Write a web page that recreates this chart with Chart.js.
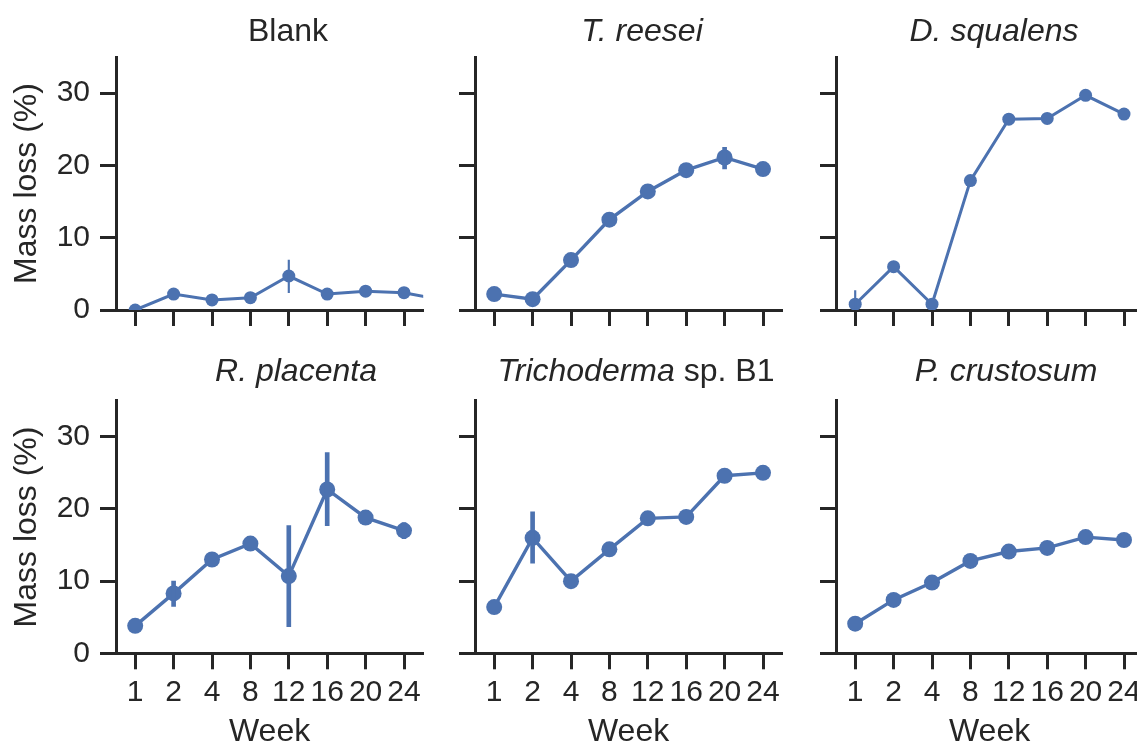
<!DOCTYPE html>
<html>
<head>
<meta charset="utf-8">
<title>Mass loss</title>
<script src="https://cdn.jsdelivr.net/npm/chart.js@4.4.0/dist/chart.umd.min.js"></script>
<style>
  html, body { margin: 0; padding: 0; background: #fff; overflow: hidden; }
  body { width: 1137px; height: 745px; position: relative; }
  canvas { position: absolute; }
</style>
</head>
<body>
<canvas id="blank"></canvas>
<canvas id="treesei"></canvas>
<canvas id="dsqualens"></canvas>
<canvas id="rplacenta"></canvas>
<canvas id="tricho"></canvas>
<canvas id="pcrust"></canvas>
<script>
// weeks on the x axis
const weeks = ['1', '2', '4', '8', '12', '16', '20', '24'];
const yTicks = [0, 10, 20, 30];

// mass loss (%) per week
const blank = [0, 2.2, 1.4, 1.7, 4.7, 2.2, 2.6, 2.4, 1.4]; // last value lies past week 24, cut off by the axis
const tReesei = [2.2, 1.5, 6.9, 12.5, 16.4, 19.35, 21.1, 19.5];
const dSqualens = [0.8, 6.0, 0.8, 17.9, 26.4, 26.5, 29.7, 27.1];
const rPlacenta = [3.8, 8.3, 13.0, 15.2, 10.7, 22.7, 18.8, 17.0];
const trichoderma = [6.4, 16.0, 10.0, 14.4, 18.7, 18.9, 24.6, 25.0];
const pCrustosum = [4.1, 7.4, 9.8, 12.8, 14.1, 14.6, 16.1, 15.7];

// error bars: [week index, low, high]
const blankErr = [[4, 2.4, 6.9]];
const tReeseiErr = [[6, 19.5, 22.5]];
const dSqualensErr = [[0, -1.1, 2.7]];
const rPlacentaErr = [[1, 6.5, 10.0], [4, 3.7, 17.7], [5, 17.7, 27.8], [7, 15.9, 18.1]];
const trichodermaErr = [[1, 12.5, 19.6]];
const pCrustosumErr = [];

const blue = '#4c72b0';
const ink = '#262626';
const family = "'Liberation Sans', Arial, sans-serif";
Chart.defaults.font.family = family;
Chart.defaults.color = ink;

// canvas placement
const cols = [
  { left: 0, width: 430, axisW: 116, padRight: 6.8 },
  { left: 440, width: 350, axisW: 35, padRight: 7.8 },
  { left: 800, width: 350, axisW: 36, padRight: 6.8 }
];
const rows = [
  { top: 0, height: 330, padTop: 57, axisH: 20, titleGap: 16 },
  { top: 340, height: 415, padTop: 60.7, axisH: 101.7, titleGap: 20 }
];

// title drawn above the plot, parts can be italic or not
const panelTitle = {
  id: 'panelTitle',
  afterDraw(chart, args, opts) {
    const ctx = chart.ctx;
    const area = chart.chartArea;
    ctx.save();
    ctx.fillStyle = ink;
    ctx.textBaseline = 'alphabetic';
    ctx.textAlign = 'left';
    const fonts = opts.parts.map(p => (p[1] ? 'italic ' : '') + '32px ' + family);
    let total = 0;
    const widths = opts.parts.map((p, i) => {
      ctx.font = fonts[i];
      const w = ctx.measureText(p[0]).width;
      total += w;
      return w;
    });
    let x = area.left + opts.center - total / 2;
    opts.parts.forEach((p, i) => {
      ctx.font = fonts[i];
      ctx.fillText(p[0], x, area.top - opts.gap);
      x += widths[i];
    });
    ctx.restore();
  }
};

const panels = [
  { id: 'blank', col: 0, row: 0, values: blank, err: blankErr, title: [['Blank', false]], center: 172, r: 6.5, lw: 3, ew: 1.5 },
  { id: 'treesei', col: 1, row: 0, values: tReesei, err: tReeseiErr, title: [['T. reesei', true]], center: 167, r: 8, lw: 3.4, ew: 4 },
  { id: 'dsqualens', col: 2, row: 0, values: dSqualens, err: dSqualensErr, title: [['D. squalens', true]], center: 158, r: 6.5, lw: 3, ew: 1.5 },
  { id: 'rplacenta', col: 0, row: 1, values: rPlacenta, err: rPlacentaErr, title: [['R. placenta', true]], center: 180, r: 8, lw: 3.4, ew: 4 },
  { id: 'tricho', col: 1, row: 1, values: trichoderma, err: trichodermaErr, title: [['Trichoderma', true], [' sp. B1', false]], center: 161, r: 8, lw: 3.4, ew: 4 },
  { id: 'pcrust', col: 2, row: 1, values: pCrustosum, err: pCrustosumErr, title: [['P. crustosum', true]], center: 170, r: 8, lw: 3.4, ew: 4 }
];

function makePanel(p) {
  const col = cols[p.col];
  const row = rows[p.row];
  const canvas = document.getElementById(p.id);
  canvas.width = col.width;
  canvas.height = row.height;
  canvas.style.left = col.left + 'px';
  canvas.style.top = row.top + 'px';

  const firstCol = p.col === 0;
  const bottomRow = p.row === 1;

  new Chart(canvas, {
    type: 'line',
    plugins: [panelTitle],
    data: {
      datasets: [
        {
          type: 'bar',
          data: p.err.map(e => ({ x: e[0], y: [e[1], e[2]] })),
          backgroundColor: blue,
          borderWidth: 0,
          barThickness: p.ew,
          order: 0
        },
        {
          type: 'line',
          data: p.values.map((v, i) => ({ x: i, y: v })),
          borderColor: blue,
          backgroundColor: blue,
          borderWidth: p.lw,
          pointRadius: p.r,
          pointBorderWidth: 0,
          pointBackgroundColor: blue,
          tension: 0,
          order: 1
        }
      ]
    },
    options: {
      responsive: false,
      animation: false,
      events: [],
      layout: { autoPadding: false, padding: { left: 0, top: row.padTop, right: col.padRight, bottom: 0 } },
      plugins: {
        legend: { display: false },
        tooltip: { enabled: false },
        title: { display: false },
        panelTitle: { parts: p.title, center: p.center, gap: row.titleGap }
      },
      scales: {
        x: {
          type: 'linear',
          min: -0.5,
          max: 7.5,
          bounds: 'data',
          offset: false,
          afterBuildTicks: s => { s.ticks = weeks.map((w, i) => ({ value: i })); },
          afterFit: s => { s.height = row.axisH; s.paddingLeft = 0; s.paddingRight = 0; },
          ticks: {
            display: bottomRow,
            autoSkip: false,
            maxRotation: 0,
            padding: 5,
            color: ink,
            font: { size: 30 },
            callback: v => weeks[v]
          },
          grid: { offset: false, drawOnChartArea: false, drawTicks: true, tickLength: 16, tickWidth: 3, tickColor: ink },
          border: { display: true, color: ink, width: 3 },
          title: { display: bottomRow, text: 'Week', color: ink, font: { size: 32 }, padding: { top: 0, bottom: 4 } }
        },
        y: {
          type: 'linear',
          min: 0,
          max: 35,
          bounds: 'data',
          afterBuildTicks: s => { s.ticks = yTicks.map(v => ({ value: v })); },
          afterFit: s => { s.width = col.axisW; s.paddingTop = 0; s.paddingBottom = 0; },
          ticks: { display: firstCol, padding: 10, color: ink, font: { size: 30 } },
          grid: { drawOnChartArea: false, drawTicks: true, tickLength: 16, tickWidth: 3, tickColor: ink },
          border: { display: true, color: ink, width: 3 },
          title: { display: firstCol, text: 'Mass loss (%)', color: ink, font: { size: 32 }, padding: { top: 8, bottom: 0 } }
        }
      }
    }
  });
}

panels.forEach(makePanel);
</script>
</body>
</html>
